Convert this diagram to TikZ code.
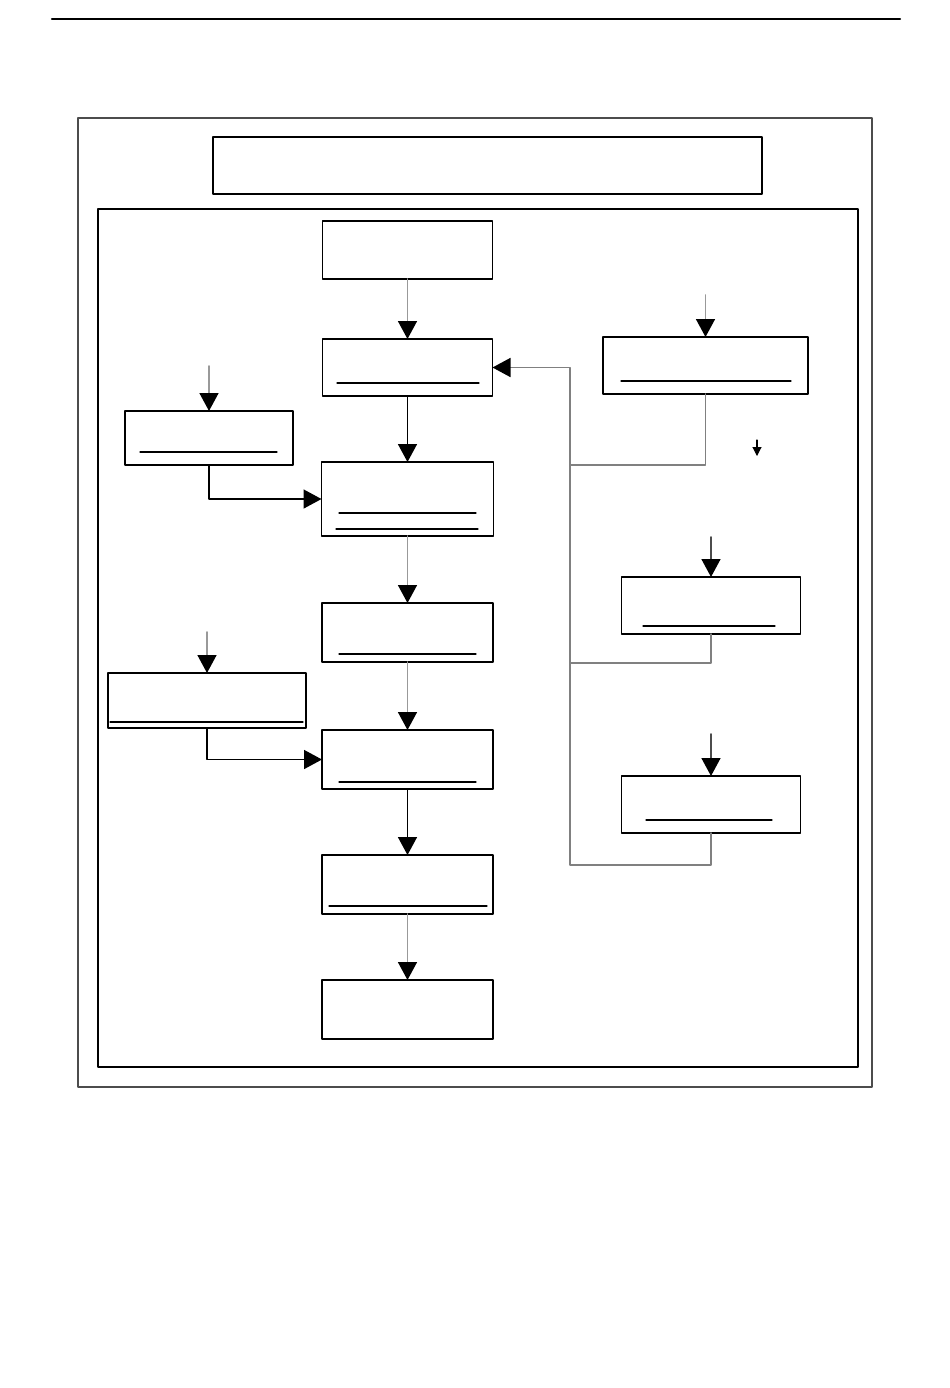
\documentclass[tikz,border=0pt]{standalone}
\usetikzlibrary{arrows.meta}
\begin{document}
\begin{tikzpicture}[x=0.2mm, y=-0.2mm, line cap=round, line join=round, >={Triangle[length=3.6mm, width=3.8mm, color=black]}]
	\tikzset{box/.style={draw, line width=1.1pt, inner sep=0pt, outer sep=0pt, fill=white},
		sz/.style 2 args={minimum width={#1*0.2mm}, minimum height={#2*0.2mm}},
		frame/.style={draw, line width=0.8pt},
		conn/.style={->, line width=0.9pt, draw=black},
		gconn/.style={->, line width=0.9pt, draw=gray!80},
		feed/.style={line width=0.9pt, draw=black},
		uline/.style={line width=0.7pt}}
	\useasboundingbox (0,0) rectangle (950,1388);
	\draw[line width=1.4pt] (52,19) -- (900,19);
	\draw[frame, draw=black!70] (78,118) rectangle (872,1087);
	\node[box, sz={549}{57}] (title) at (487.5,165.5) {};
	\draw[frame] (98,209) rectangle (858,1067);
	\node[box, sz={170}{58}] (b1) at (407.5,250) {};
	\node[box, sz={170}{57}] (b2) at (407.5,367.5) {};
	\node[box, sz={172}{74}] (b3) at (407.5,499) {};
	\node[box, sz={171}{59}] (b4) at (407.5,632.5) {};
	\node[box, sz={171}{59}] (b5) at (407.5,759.5) {};
	\node[box, sz={171}{59}] (b6) at (407.5,884.5) {};
	\node[box, sz={171}{59}] (b7) at (407.5,1009.5) {};
	\node[box, sz={168}{54}] (l1) at (209,438) {};
	\node[box, sz={198}{55}] (l2) at (207,700.5) {};
	\node[box, sz={205}{57}] (r1) at (705.5,365.5) {};
	\node[box, sz={179}{57}] (r2) at (711,605.5) {};
	\node[box, sz={179}{57}] (r3) at (711,804.5) {};
	\foreach \xa/\xb/\y in {337/479/383, 339/476/513, 336/478/529, 339/476/654, 339/476/782, 329/487/906,
		140/277/452, 110/303/722, 621/791/381, 643/775/626, 646/772/820}
		\draw[uline] (\xa,\y) -- (\xb,\y);
	\coordinate (l1in) at (209,366);
	\coordinate (l2in) at (207,632);
	\coordinate (r1in) at (705.5,295);
	\coordinate (r2in) at (711,537);
	\coordinate (r3in) at (711,734);
	\coordinate (j1) at (570,465);
	\coordinate (j2) at (570,663);
	\coordinate (j3) at (570,865);
	\coordinate (sa) at (757,440);
	\coordinate (sb) at (757,456);
	\draw[gconn] (b1) -- (b2);
	\draw[conn] (b2) -- (b3);
	\draw[gconn] (b3) -- (b4);
	\draw[gconn] (b4) -- (b5);
	\draw[conn] (b5) -- (b6);
	\draw[gconn] (b6) -- (b7);
	\draw[gconn] (l1in) -- (l1);
	\draw[gconn] (l2in) -- (l2);
	\draw[gconn] (r1in) -- (r1);
	\draw[conn, draw=black!70] (r2in) -- (r2);
	\draw[conn, draw=black!70] (r3in) -- (r3);
	\draw[conn] (l1.south) |- (b3.west);
	\draw[conn] (l2.south) |- (b5.west);
	\draw[conn, draw=gray] (r1.south) |- (j1) |- (b2.east);
	\draw[feed, draw=gray] (r2.south) |- (j2);
	\draw[feed, draw=gray] (r3.south) |- (j3) -- (j1);
	\draw[-{Triangle[length=1.8mm, width=1.8mm]}, line width=0.6pt] (sa) -- (sb);
\end{tikzpicture}
\end{document}
